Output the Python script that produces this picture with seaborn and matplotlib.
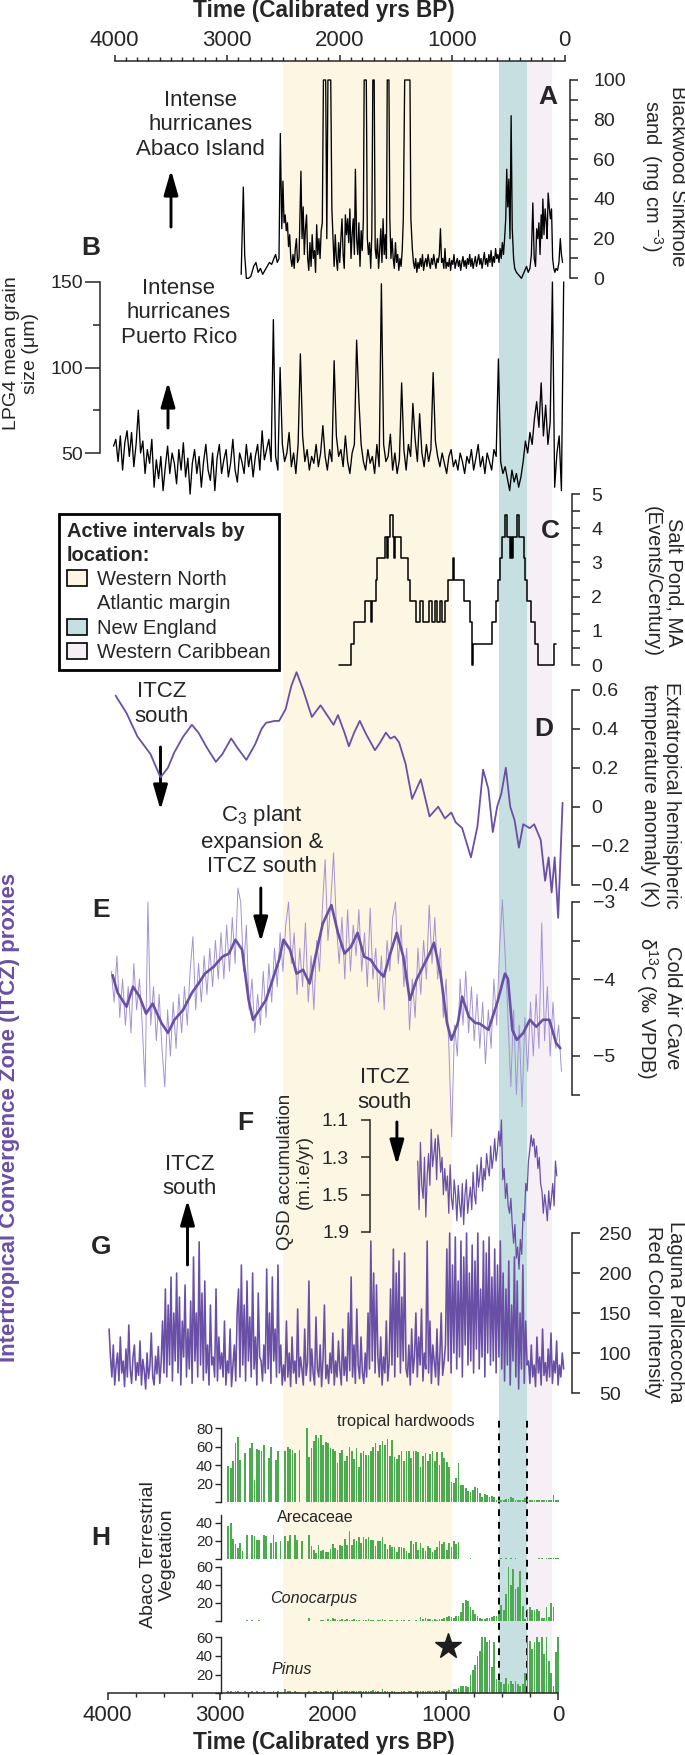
import numpy as np
import pandas as pd
import matplotlib
matplotlib.use("Agg")
import matplotlib.pyplot as plt
import seaborn as sns
from matplotlib.patches import Patch
from matplotlib.ticker import MultipleLocator, FixedLocator

sns.set_style("ticks")
plt.rcParams["font.family"] = ["Liberation Sans", "DejaVu Sans"]
plt.rcParams["mathtext.fontset"] = "custom"
plt.rcParams["mathtext.rm"] = "Liberation Sans"
plt.rcParams["mathtext.it"] = "Liberation Sans:italic"
plt.rcParams["mathtext.bf"] = "Liberation Sans:bold"

# ======================= DATA =======================
time_ticks = [4000, 3000, 2000, 1000, 0]

# active intervals (yrs BP)
wna_interval = (2500, 1000)
ne_interval = (585, 335)
wc_interval = (335, 115)

# A  Blackwood Sinkhole sand (mg cm-3)
a_pairs = [
 (2876,2),(2868,20),(2857,46),(2845,12),(2830,0),(2810,0),(2790,1),(2765,6),(2745,8),(2725,3),
 (2705,5),(2685,2),(2665,4),(2645,6),(2625,8),(2605,7),(2585,10),(2570,12),(2555,8),(2540,10),
 (2528,73),(2515,25),(2505,49),(2495,28),(2485,32),(2475,24),(2465,28),(2455,16),(2445,22),(2435,10),
 (2425,6),(2415,12),(2405,5),(2395,15),(2385,20),(2375,8),(2362,10),(2345,54),(2335,20),(2325,36),
 (2315,12),(2305,25),(2295,32),(2285,10),(2275,4),(2265,18),(2255,6),(2245,22),(2235,10),(2225,14),
 (2215,3),(2205,27),(2195,12),(2185,20),(2175,10),(2165,24),(2155,28),(2145,100),(2125,100),(2115,20),
 (2105,100),(2080,100),(2070,35),(2060,20),(2050,6),(2040,22),(2030,10),(2020,4),(2010,18),(2000,8),
 (1990,20),(1980,30),(1970,12),(1960,5),(1950,32),(1940,22),(1930,30),(1920,18),(1910,35),(1900,10),
 (1890,22),(1880,30),(1870,12),(1861,55),(1850,20),(1840,12),(1830,28),(1820,6),(1810,24),(1800,14),
 (1790,30),(1783,100),(1764,100),(1755,20),(1745,12),(1735,18),(1725,5),(1715,22),(1706,100),(1694,100),
 (1685,15),(1675,10),(1665,20),(1655,5),(1645,14),(1635,25),(1625,8),(1615,30),(1605,12),(1595,22),
 (1585,10),(1578,100),(1563,100),(1555,30),(1545,10),(1535,20),(1525,10),(1515,5),(1505,18),(1495,8),
 (1485,12),(1475,4),(1465,10),(1455,6),(1445,14),(1435,30),(1423,100),(1376,100),(1368,30),(1355,15),
 (1345,8),(1335,5),(1325,10),(1315,3),(1305,8),(1295,5),(1285,10),(1275,6),(1265,12),(1255,4),
 (1245,8),(1235,10),(1225,6),(1215,12),(1205,8),(1195,5),(1185,10),(1175,7),(1165,12),(1155,8),
 (1145,5),(1135,10),(1125,8),(1115,12),(1105,25),(1095,8),(1085,10),(1075,5),(1065,15),(1055,5),
 (1045,8),(1035,6),(1025,10),(1015,4),(1005,9),(995,7),(985,12),(975,5),(965,8),(955,10),
 (945,6),(935,9),(925,4),(915,8),(905,11),(895,6),(885,9),(875,5),(865,10),(855,7),
 (845,12),(835,6),(825,10),(815,5),(805,8),(795,11),(785,6),(775,9),(765,12),(755,7),
 (745,10),(735,5),(725,9),(715,13),(705,7),(695,10),(685,6),(675,12),(665,8),(655,14),
 (645,6),(635,11),(625,8),(615,15),(605,10),(595,12),(585,8),(575,15),(565,10),(555,18),
 (545,12),(535,20),(525,30),(516,55),(507,36),(497,50),(487,20),(477,82),(467,25),(455,10),
 (445,5),(430,3),(415,2),(400,1),(385,0),(370,2),(355,4),(340,6),(325,3),(310,5),
 (297,12),(284,38),(272,10),(260,6),(250,25),(240,20),(230,28),(220,12),(210,32),(203,20),
 (195,40),(185,22),(175,35),(165,28),(157,20),(148,43),(138,36),(128,30),(118,35),(108,10),
 (98,5),(88,3),(78,5),(65,4),(52,8),(40,20),(30,12),(20,8)]
a_time = [p[0] for p in a_pairs]
a_sand = [p[1] for p in a_pairs]

# B  LPG4 mean grain size (um), samples every 20 yr from 4010 to 10 BP
b_first, b_last = 4010, 10
b_grain = [
 54, 58, 45, 60, 40, 56, 63, 48, 62, 42, 55, 75, 50, 57, 38, 52, 44, 58, 30, 46,
 35, 48, 28, 42, 54, 38, 50, 44, 32, 52, 40, 56, 36, 47, 26, 44, 52, 38, 48, 30,
 45, 55, 40, 34, 50, 28, 47, 55, 38, 46, 52, 36, 44, 58, 40, 33, 50, 45, 38, 55,
 42, 50, 36, 48, 55, 40, 63, 46, 52, 58, 45, 128, 48, 40, 100, 55, 45, 50, 62, 42,
 50, 38, 55, 108, 60, 45, 52, 40, 48, 44, 55, 42, 50, 66, 48, 40, 52, 45, 104, 60,
 48, 52, 42, 60, 45, 38, 50, 55, 116, 81, 55, 45, 40, 52, 44, 48, 38, 55, 42, 149,
 55, 45, 48, 61, 40, 50, 38, 46, 91, 52, 40, 55, 48, 79, 58, 45, 73, 50, 42, 55,
 45, 52, 97, 57, 48, 42, 50, 44, 38, 48, 52, 42, 46, 40, 50, 45, 38, 48, 44, 52,
 40, 47, 55, 42, 48, 38, 50, 45, 40, 52, 48, 105, 45, 38, 42, 35, 28, 40, 33, 38,
 30, 36, 45, 57, 50, 62, 55, 70, 80, 65, 91, 60, 78, 55, 68, 150, 30, 50, 60, 28, 150]

# C  Salt Pond events per century (step series, value holds to next time)
c_pairs = [
 (2004,0),(1900,0.625),(1873,1.25),(1775,1.875),(1720,1.25),(1712,1.875),(1676,2.5),(1667,3.125),
 (1601,3.75),(1580,3.125),(1575,3.75),(1551,4.375),(1525,3.75),(1515,3.125),(1510,3.75),(1454,3.125),
 (1396,2.5),(1375,1.875),(1318,1.25),(1287,1.875),(1263,1.25),(1204,1.875),(1183,1.25),(1153,1.875),
 (1138,1.25),(1109,1.875),(1088,1.25),(1065,1.875),(1040,2.5),(995,3.125),(985,2.5),(892,1.875),
 (845,1.25),(824,0),(818,0.625),(645,1.25),(610,1.875),(592,2.5),(575,3.125),(556,3.75),
 (530,4.375),(515,3.75),(490,3.125),(482,3.75),(470,3.125),(462,3.75),(425,4.375),(410,3.75),
 (362,3.125),(350,2.5),(335,1.875),(300,1.25),(265,0.625),(242,0),(92,0.625),(78,0.625)]
c_time = [p[0] for p in c_pairs]
c_rate = [p[1] for p in c_pairs]

# D  extratropical hemispheric temperature anomaly (K)
d_pairs = [
 (3992,0.57),(3895,0.48),(3798,0.36),(3682,0.27),(3593,0.15),(3527,0.20),(3469,0.28),(3391,0.36),
 (3314,0.42),(3256,0.38),(3178,0.30),(3101,0.23),(3043,0.27),(2965,0.35),(2907,0.30),(2830,0.24),
 (2752,0.32),(2694,0.40),(2655,0.43),(2578,0.44),(2539,0.44),(2481,0.50),(2430,0.62),(2384,0.69),
 (2326,0.60),(2248,0.46),(2171,0.52),(2113,0.47),(2055,0.42),(2016,0.47),(1958,0.38),(1919,0.31),
 (1872,0.38),(1822,0.44),(1764,0.37),(1687,0.29),(1640,0.33),(1590,0.38),(1551,0.35),(1512,0.36),
 (1473,0.33),(1415,0.22),(1357,0.04),(1280,0.14),(1202,-0.05),(1125,0.0),(1066,-0.06),(1008,-0.03),
 (970,-0.08),(912,-0.11),(834,-0.26),(776,-0.10),(726,0.19),(679,0.09),(640,-0.13),(601,0.0),
 (563,0.07),(524,0.20),(485,0.0),(446,-0.07),(408,-0.21),(369,-0.09),(311,-0.11),(272,-0.09),
 (214,-0.17),(175,-0.38),(144,-0.26),(117,-0.44),(90,-0.26),(59,-0.57),(20,0.02)]
d_time = [p[0] for p in d_pairs]
d_temp = [p[1] for p in d_pairs]

# E  Cold Air Cave d13C (permil VPDB): smoothed curve and raw record
e_smooth_pairs = [
 (4019,-3.95),(3973,-4.18),(3895,-4.36),(3837,-4.10),(3779,-4.23),(3721,-4.45),(3663,-4.32),(3585,-4.57),
 (3527,-4.70),(3469,-4.53),(3391,-4.40),(3314,-4.18),(3256,-4.06),(3198,-3.93),(3120,-3.84),(3043,-3.71),
 (2985,-3.67),(2927,-3.49),(2868,-3.62),(2810,-4.27),(2771,-4.53),(2713,-4.40),(2655,-4.27),(2597,-4.01),
 (2539,-3.75),(2500,-3.49),(2442,-3.62),(2384,-3.93),(2326,-3.88),(2268,-4.06),(2210,-3.67),(2151,-3.28),
 (2074,-3.04),(2016,-3.40),(1958,-3.67),(1900,-3.58),(1841,-3.40),(1783,-3.71),(1725,-3.75),(1667,-3.88),
 (1609,-3.97),(1551,-3.67),(1493,-3.40),(1435,-3.71),(1377,-4.27),(1318,-4.01),(1260,-3.84),(1202,-3.67),
 (1163,-3.53),(1105,-3.93),(1047,-4.57),(1008,-4.79),(950,-4.57),(912,-4.23),(853,-4.49),(795,-4.57),
 (756,-4.58),(679,-4.66),(601,-4.31),(532,-3.93),(505,-4.00),(466,-4.66),(427,-4.79),(369,-4.70),
 (311,-4.53),(253,-4.62),(195,-4.53),(137,-4.53),(78,-4.83),(40,-4.90)]
e_smooth_time = [p[0] for p in e_smooth_pairs]
e_smooth = [p[1] for p in e_smooth_pairs]

e_raw_first, e_raw_last = 4030, 30
e_raw = [
 -3.9,-4.3,-3.7,-4.5,-4.0,-4.6,-4.1,-4.7,-3.8,-4.4,
 -4.0,-4.6,-5.4,-3.0,-4.6,-4.1,-4.8,-4.2,-4.9,-5.4,
 -4.4,-5.0,-4.3,-4.9,-4.2,-4.7,-4.1,-4.6,-3.9,-3.45,
 -4.4,-3.8,-4.3,-3.7,-4.2,-3.6,-4.1,-3.5,-4.0,-3.4,
 -4.0,-3.3,-3.9,-3.2,-3.8,-2.82,-3.0,-3.9,-3.3,-4.4,
 -4.0,-4.7,-4.2,-4.6,-3.9,-4.5,-3.8,-4.3,-3.6,-4.1,
 -3.4,-3.9,-3.3,-3.0,-3.8,-3.4,-4.2,-3.6,-4.1,-3.27,
 -4.3,-3.7,-4.4,-3.5,-3.9,-3.1,-2.45,-3.5,-3.0,-2.36,
 -3.3,-3.8,-3.2,-4.0,-3.1,-3.9,-3.3,-3.7,-3.1,-3.9,
 -3.4,-4.1,-3.08,-4.0,-3.6,-4.3,-3.7,-4.4,-3.5,-3.9,
 -3.2,-3.0,-3.8,-3.3,-4.1,-3.6,-4.66,-4.0,-4.5,-3.6,
 -4.2,-3.5,-4.0,-3.04,-3.8,-3.2,-4.0,-3.6,-4.5,-4.0,
 -4.9,-6.05,-4.6,-5.0,-4.0,-4.6,-3.9,-4.7,-4.1,-4.8,
 -4.2,-4.9,-4.3,-5.1,-4.4,-4.9,-4.0,-4.6,-3.6,-2.97,
 -3.7,-4.5,-5.4,-4.4,-5.5,-4.6,-5.66,-4.5,-5.2,-4.3,
 -5.0,-4.2,-4.9,-3.27,-4.8,-4.1,-5.0,-4.3,-4.9,-4.6,-5.2]

# F  QSD accumulation (m.i.e/yr), plotted on the figure's own tick scale
f_first, f_last = 1307, 71
f_ticks = [1.1, 1.3, 1.5, 1.7]
f_tick_labels = ["1.1", "1.3", "1.5", "1.9"]
f_qsd = [
 1.32,1.58,1.22,1.45,1.52,1.30,1.62,1.40,1.28,1.45,
 1.15,1.35,1.28,1.20,1.42,1.18,1.25,1.38,1.30,1.50,
 1.36,1.48,1.40,1.60,1.34,1.52,1.58,1.42,1.50,1.64,
 1.45,1.55,1.62,1.44,1.66,1.50,1.42,1.60,1.52,1.46,
 1.58,1.38,1.50,1.55,1.34,1.46,1.40,1.30,1.48,1.36,
 1.42,1.28,1.35,1.40,1.24,1.36,1.30,1.20,1.32,1.26,
 1.16,1.24,1.10,1.42,1.36,1.52,1.44,1.56,1.60,1.52,
 1.66,1.76,1.66,1.84,1.78,1.90,1.74,1.82,1.60,1.64,
 1.44,1.48,1.32,1.26,1.18,1.24,1.20,1.30,1.24,1.36,
 1.30,1.44,1.48,1.60,1.50,1.56,1.64,1.48,1.58,1.52,
 1.44,1.56,1.32,1.40]

# G  Laguna Pallcacocha red color intensity, every 12.5 yr from 4050 to 10 BP
g_first, g_last = 4050, 10
g_red = [
 130, 95, 70, 110, 60, 85, 100, 65, 120, 75, 90, 58, 105, 70, 135, 80, 62, 95, 110, 66,
 88, 72, 115, 60, 92, 78, 55, 100, 68, 84, 125, 70, 60, 96, 74, 108, 62, 88, 140, 75,
 180, 70, 160, 85, 195, 65, 150, 90, 200, 75, 170, 60, 140, 95, 185, 70, 130, 80, 165, 62,
 220, 90, 150, 70, 239, 85, 175, 66,
 190, 75, 110, 60, 160, 85, 95, 70, 180, 65, 120, 80,
 100, 70, 140, 60, 90, 75, 130, 58, 85, 110, 65, 150,
 180, 70, 210, 85, 160, 65, 190, 90, 145, 70, 200, 80, 120, 60, 175, 95,
 90, 65, 110, 75,
 205, 80, 150, 62, 195, 90, 130, 70, 210, 75, 110, 60,
 85, 65, 140, 70, 100, 58, 120, 75, 90, 62, 155, 70, 95, 80, 60, 130, 72, 88, 190, 65,
 105, 75, 60, 145, 80, 70, 110, 58, 92, 160, 68, 85, 62, 100, 75, 125, 60, 90, 70, 115,
 80, 60, 130, 72, 95, 65, 150, 78, 195, 70, 110, 62, 155, 85, 68, 120,
 75, 62, 100, 70,
 150, 80, 240, 90, 200, 75, 185, 95,
 70, 120, 60, 95, 75, 140, 65, 88,
 180, 85, 230, 70, 200, 95, 215, 75, 170, 90, 225, 80,
 70, 110, 60, 130, 75, 95,
 150, 70, 120, 85, 155, 65, 100, 80, 240, 75, 140, 62, 110, 90,
 70, 130, 60, 95, 150, 72, 88, 110,
 230, 90, 250, 75, 210, 100, 245, 80, 190, 95, 240, 70, 220, 110, 250, 85, 200, 90, 235, 75,
 215, 105, 250, 80, 180, 95, 240, 70, 225, 100, 245, 85, 195, 90, 230, 75, 210, 95, 240, 80,
 200, 65, 180, 85, 215, 60, 160, 90, 220, 70, 190, 55, 150, 80, 210, 62, 140, 85,
 90, 62, 110, 70, 85, 58, 120, 75, 95, 60, 130, 72, 88, 65, 105, 70, 125, 62, 90, 75,
 115, 60, 85, 70, 100, 80]

# H  Abaco terrestrial vegetation (%), samples from 2990 to 58 BP
h_first, h_last = 2990, 58
h_hardwoods = [
 39, 37, 44, 64, 70, 46, 0, 53, 0, 58,
 64, 24, 57, 56, 55, 62, 0, 48, 60, 0,
 46, 55, 0, 0, 55, 60, 57, 56, 53, 0,
 56, 0, 0, 80, 49, 58, 66, 72, 69, 72,
 62, 65, 64, 58, 57, 55, 42, 53, 56, 45,
 50, 60, 55, 47, 58, 38, 53, 55, 51, 51,
 55, 60, 64, 55, 62, 66, 62, 68, 50, 67,
 49, 47, 51, 55, 44, 55, 55, 48, 55, 55,
 54, 38, 50, 53, 45, 52, 55, 45, 54, 40,
 54, 48, 43, 38, 22, 21, 26, 42, 19, 19,
 15, 12, 11, 13, 16, 15, 10, 6, 9, 8,
 6, 7, 6, 3, 2, 2, 3, 4, 4, 6,
 5, 3, 2, 2, 3, 5, 4, 3, 3, 2,
 3, 2, 3, 2, 3, 2, 2, 8, 3, 2]
h_arecaceae = [
 36, 48, 22, 17, 12, 18, 9, 0, 26, 0,
 26, 25, 21, 21, 0, 26, 25, 0, 18, 26,
 19, 0, 20, 0, 25, 20, 26, 0, 26, 21,
 0, 20, 0, 0, 26, 14, 10, 7, 15, 9,
 10, 8, 8, 11, 17, 12, 10, 15, 14, 22,
 15, 31, 15, 22, 20, 24, 18, 24, 22, 24,
 21, 21, 14, 20, 20, 24, 17, 11, 15, 13,
 13, 8, 13, 13, 12, 9, 7, 20, 17, 19,
 10, 18, 12, 9, 14, 12, 8, 10, 13, 20,
 17, 19, 10, 18, 13, 20, 17, 19, 0, 0,
 0, 0, 1, 0, 0, 0, 0, 0, 0, 0,
 0, 0, 0, 0, 0, 1, 0, 1, 0, 1,
 0, 1, 0, 0, 0, 0, 0, 0, 0, 0,
 0, 1, 1, 0, 1, 1, 1, 1, 1, 1]
h_conocarpus = [
 0, 0, 0, 0, 0, 0, 0, 0, 1, 0,
 1, 0, 0, 1, 0, 0, 0, 0, 0, 0,
 0, 0, 0, 0, 0, 0, 0, 0, 0, 0,
 0, 0, 0, 0, 3, 0, 0, 0, 0, 1,
 1, 0, 2, 1, 3, 2, 1, 1, 2, 1,
 2, 1, 1, 2, 1, 1, 0, 1, 1, 2,
 1, 1, 0, 1, 1, 2, 1, 0, 1, 1,
 0, 1, 0, 1, 1, 0, 1, 0, 0, 1,
 0, 4, 2, 3, 2, 2, 1, 2, 1, 2,
 2, 3, 4, 6, 4, 3, 5, 6, 10, 20,
 23, 22, 15, 12, 8, 5, 3, 2, 2, 3,
 3, 4, 5, 5, 8, 18, 12, 30, 60, 40,
 58, 35, 38, 55, 17, 2, 13, 15, 12, 12,
 13, 11, 3, 3, 16, 4, 20, 15, 0, 0]
h_pinus = [
 2, 3, 1, 2, 2, 1, 0, 2, 1, 1,
 2, 1, 2, 1, 1, 2, 0, 1, 1, 2,
 1, 2, 1, 0, 5, 3, 2, 1, 2, 1,
 1, 0, 0, 1, 2, 1, 2, 2, 1, 2,
 1, 3, 2, 2, 1, 2, 4, 1, 2, 2,
 3, 2, 2, 3, 2, 2, 3, 2, 3, 2,
 2, 4, 2, 3, 1, 5, 2, 2, 1, 2,
 2, 1, 1, 2, 3, 1, 2, 2, 1, 2,
 2, 3, 2, 2, 3, 2, 3, 2, 3, 4,
 2, 3, 2, 4, 3, 5, 5, 6, 8, 8,
 8, 7, 20, 25, 30, 40, 45, 67, 65, 55,
 57, 28, 55, 15, 13, 12, 10, 16, 10, 13,
 10, 13, 10, 8, 10, 22, 62, 56, 48, 55,
 60, 55, 63, 42, 63, 35, 22, 8, 44, 62]
star_time, star_value = 1035, 50.7

# ======================= STYLE =======================
YEL, BLU, PNK = "#fdf6e2", "#c6dfe0", "#f6eff6"
PURPLE = "#6a4fa6"
LPURPLE = "#a392d2"
GREEN = "#4caa50"

W, H = 685, 1755
XL, XR = 114.7, 564.8

fig = plt.figure(figsize=(W / 100, H / 100), dpi=100)
fig.patch.set_facecolor("white")


def frect(x0, y0, x1, y1):
    return [x0 / W, 1 - y1 / H, (x1 - x0) / W, (y1 - y0) / H]


def fpt(x, y):
    return (x / W, 1 - y / H)


def panel(ytop, ybot, xl=XL, xr=XR):
    ax = fig.add_axes(frect(xl, ytop, xr, ybot))
    ax.patch.set_alpha(0)
    for s in ax.spines.values():
        s.set_visible(False)
    return ax


def finish_x(ax):
    ax.set_xlim(4000, 0)
    ax.set_xticks([])
    ax.set_xlabel("")
    ax.set_ylabel("")


def right_spine(ax, lo, hi, outward=5.5):
    sp = ax.spines["right"]
    sp.set_visible(True)
    sp.set_position(("outward", outward))
    sp.set_bounds(lo, hi)
    sp.set_linewidth(1.1)
    ax.yaxis.tick_right()


# ---------- background: shading + top time axis ----------
bg = panel(61, 1693.3)
bg.set_ylim(0, 1)
bg.axvspan(*wna_interval, color=YEL, lw=0)
bg.axvspan(*ne_interval, color=BLU, lw=0)
bg.axvspan(*wc_interval, color=PNK, lw=0)
bg.set_xlim(4000, 0)
bg.spines["top"].set_visible(True)
bg.spines["top"].set_linewidth(1.1)
bg.xaxis.tick_top()
bg.set_xticks(time_ticks)
bg.set_xticklabels([str(t) for t in time_ticks])
bg.xaxis.set_minor_locator(MultipleLocator(100))
bg.tick_params(axis="x", which="major", length=4.5, width=1.1, labelsize=16, pad=3)
bg.tick_params(axis="x", which="minor", length=3.0, width=1.0)
bg.set_yticks([])
yfrac = lambda y: (1693.3 - y) / (1693.3 - 61)
for t in ne_interval:
    bg.axvline(t, ymin=0, ymax=yfrac(1415), color="black", lw=1.4, ls=(0, (3.5, 3.0)))

# ---------- A ----------
axA = panel(80, 278.3)
sns.lineplot(x=a_time, y=a_sand, ax=axA, color="black", lw=0.95, sort=False,
             estimator=None, clip_on=False)
finish_x(axA)
axA.set_ylim(0, 100)
right_spine(axA, 0, 100, outward=4.0)
axA.set_yticks(range(0, 101, 20))
axA.yaxis.set_minor_locator(MultipleLocator(10))
axA.tick_params(axis="y", which="both", length=5.5, width=1.1, labelsize=14, pad=11)

# ---------- B ----------
axB = panel(282, 453)
b_time = np.linspace(b_first, b_last, len(b_grain))
sns.lineplot(x=b_time, y=b_grain, ax=axB, color="black", lw=0.95, sort=False,
             estimator=None, clip_on=False)
finish_x(axB)
axB.set_ylim(50, 150)
sp = axB.spines["left"]
sp.set_visible(True)
sp.set_position(("outward", 10.4))
sp.set_bounds(50, 150)
sp.set_linewidth(1.1)
axB.set_yticks([50, 100, 150])
axB.yaxis.set_minor_locator(FixedLocator([75, 125]))
axB.tick_params(axis="y", which="major", length=10.8, width=1.1, labelsize=14, pad=1.7)
axB.tick_params(axis="y", which="minor", length=4.7, width=1.1)

# ---------- C ----------
axC = panel(494, 665)
sns.lineplot(x=c_time, y=c_rate, ax=axC, color="black", lw=1.1, sort=False,
             estimator=None, drawstyle="steps-post", clip_on=False)
finish_x(axC)
axC.set_ylim(0, 5)
right_spine(axC, 0, 5)
axC.set_yticks(range(0, 6))
axC.yaxis.set_minor_locator(MultipleLocator(0.5))
axC.tick_params(axis="y", which="both", length=5.5, width=1.1, labelsize=14, pad=8)

# ---------- D ----------
axD = panel(689.7, 884.7)
sns.lineplot(x=d_time, y=d_temp, ax=axD, color=PURPLE, lw=1.3, sort=False,
             estimator=None, clip_on=False)
finish_x(axD)
axD.set_ylim(-0.4, 0.6)
right_spine(axD, -0.4, 0.6)
d_ticks = [-0.4, -0.2, 0, 0.2, 0.4, 0.6]
axD.set_yticks(d_ticks)
axD.set_yticklabels(["\u22120.4", "\u22120.2", "0", "0.2", "0.4", "0.6"])
axD.tick_params(axis="y", length=5.5, width=1.1, labelsize=14, pad=8)

# ---------- E ----------
axE = panel(902, 1094.5)
e_raw_time = np.linspace(e_raw_first, e_raw_last, len(e_raw))
sns.lineplot(x=e_raw_time, y=e_raw, ax=axE, color=LPURPLE, lw=0.7, sort=False,
             estimator=None, clip_on=False)
sns.lineplot(x=e_smooth_time, y=e_smooth, ax=axE, color=PURPLE, lw=1.9, sort=False,
             estimator=None, clip_on=False)
finish_x(axE)
axE.set_ylim(-5.5, -3)
right_spine(axE, -5.5, -3)
axE.set_yticks([-5, -4, -3])
axE.set_yticklabels(["\u22125", "\u22124", "\u22123"])
axE.yaxis.set_minor_locator(FixedLocator([-5.5, -4.5, -3.5]))
axE.tick_params(axis="y", which="both", length=5.5, width=1.1, labelsize=14, pad=9.5)

# ---------- F ----------
axF = panel(1120, 1232)
f_time = np.linspace(f_first, f_last, len(f_qsd))
sns.lineplot(x=f_time, y=f_qsd, ax=axF, color=PURPLE, lw=0.9, sort=False,
             estimator=None, clip_on=False)
finish_x(axF)
axF.set_ylim(1.7, 1.1)
sp = axF.spines["left"]
sp.set_visible(True)
sp.set_position(("axes", (369.8 - XL) / (XR - XL)))
sp.set_bounds(1.1, 1.7)
sp.set_linewidth(1.1)
axF.set_yticks(f_ticks)
axF.set_yticklabels(f_tick_labels)
axF.tick_params(axis="y", length=6.3, width=1.1, labelsize=14, pad=8.6)

# ---------- G ----------
axG = panel(1233, 1393)
g_time = np.linspace(g_first, g_last, len(g_red))
sns.lineplot(x=g_time, y=g_red, ax=axG, color=PURPLE, lw=1.15, sort=False,
             estimator=None, clip_on=False)
finish_x(axG)
axG.set_ylim(50, 250)
right_spine(axG, 50, 250)
axG.set_yticks(range(50, 251, 50))
axG.tick_params(axis="y", length=5.5, width=1.1, labelsize=14, pad=13.5)

# ---------- H ----------
h_time = np.linspace(h_first, h_last, len(h_hardwoods))
h_specs = [
    (h_hardwoods, 1428, 1502.3, 80, 80, [0, 20, 40, 60, 80]),
    (h_arecaceae, 1522.7, 1559, 40, 48, [0, 20, 40]),
    (h_conocarpus, 1566.7, 1621, 60, 60, [0, 20, 40, 60]),
    (h_pinus, 1637.3, 1693.3, 60, 60, [0, 20, 40, 60]),
]
h_axes = []
for vals, yt, yb, ytopv, spinetop, ticks in h_specs:
    ax = panel(yt, yb)
    sns.barplot(x=h_time, y=vals, ax=ax, native_scale=True, orient="x", color=GREEN,
                saturation=1, width=0.72, errorbar=None, linewidth=0)
    finish_x(ax)
    ax.set_ylim(0, ytopv)
    sp = ax.spines["left"]
    sp.set_visible(True)
    sp.set_position(("axes", (220.7 - XL) / (XR - XL)))
    sp.set_bounds(0, spinetop)
    sp.set_linewidth(1.0)
    ax.set_yticks(ticks)
    ax.set_yticklabels([""] + [str(t) for t in ticks[1:]])
    ax.tick_params(axis="y", length=4, width=1.0, labelsize=11, pad=1.5)
    h_axes.append(ax)
axP = h_axes[-1]
axP.plot([star_time], [star_value], marker="*", ms=19, color="#1e1e1e", ls="none", clip_on=False)

# ---------- bottom time axis ----------
axT = panel(1673.3, 1693.3, 107.5, 558.3)
axT.set_xlim(4000, 0)
axT.set_ylim(0, 1)
axT.spines["bottom"].set_visible(True)
axT.spines["bottom"].set_linewidth(1.1)
axT.set_xticks(time_ticks)
axT.set_xticklabels([str(t) for t in time_ticks])
axT.xaxis.set_minor_locator(MultipleLocator(250))
axT.set_yticks([])
axT.tick_params(axis="x", which="major", length=4.8, width=1.1, labelsize=16, pad=3.5)
axT.tick_params(axis="x", which="minor", length=3.1, width=1.0)

# ======================= TEXT =======================
def ftxt(x, y, s, **kw):
    kw.setdefault("ha", "center")
    kw.setdefault("va", "center")
    fig.text(x / W, 1 - y / H, s, **kw)

ftxt(324, 11, "Time (Calibrated yrs BP)", fontsize=16.3, weight="bold")
ftxt(324, 1742, "Time (Calibrated yrs BP)", fontsize=16.3, weight="bold")

for letter, x, y in [("A", 548, 97), ("B", 90.5, 248), ("C", 550.5, 531), ("D", 544, 729),
                     ("E", 101, 910), ("F", 245, 1123), ("G", 101, 1247), ("H", 101, 1538)]:
    ftxt(x, y, letter, fontsize=19, weight="bold")

rl = dict(rotation=270, fontsize=14.5, multialignment="center")
ftxt(663, 176, "Blackwood Sinkhole\nsand  (mg cm $^{-3}$)", **rl)
ftxt(663, 582, "Salt Pond, MA\n(Events/Century)", **rl)
ftxt(661, 795, "Extratropical hemispheric\ntemperature anomaly (K)", **rl)
ftxt(658, 1008, "Cold Air Cave\n\u03b4$^{13}$C (\u2030 VPDB)", **rl)
ftxt(664, 1312, "Laguna Pallcacocha\nRed Color Intensity", **rl)

ll = dict(rotation=90, fontsize=14, multialignment="center")
ftxt(21, 353, "LPG4 mean grain\nsize (\u03bcm)", **ll)
ftxt(295, 1172, "QSD accumulation\n(m.i.e/yr)", rotation=90, fontsize=13.5, multialignment="center")
ftxt(158, 1555, "Abaco Terrestrial\nVegetation", **ll)
ftxt(10, 1117, "Intertropical Convergence Zone (ITCZ) proxies", rotation=90,
     fontsize=16, weight="bold", color=PURPLE)

an = dict(fontsize=16, linespacing=1.2, multialignment="center")
ftxt(200.6, 125, "Intense\nhurricanes\nAbaco Island", **an)
ftxt(178.8, 313, "Intense\nhurricanes\nPuerto Rico", **an)
ftxt(161.4, 704, "ITCZ\nsouth", **an)
ftxt(261.7, 840, "C$_3$ plant\nexpansion &\nITCZ south", **an)
ftxt(384.7, 1090, "ITCZ\nsouth", **an)
ftxt(189.7, 1176.5, "ITCZ\nsouth", **an)

ftxt(405.7, 1421.7, "tropical hardwoods", fontsize=11.8)
ftxt(315, 1518, "Arecaceae", fontsize=11.6)
ftxt(313.3, 1599, "Conocarpus", fontsize=11.6, style="italic")
ftxt(291.7, 1669, "Pinus", fontsize=11.6, style="italic")

arrow_kw = dict(arrowstyle="-|>,head_length=15,head_width=4.3", color="black", lw=2.1,
                shrinkA=0, shrinkB=0, mutation_scale=1)
for x, y0, y1 in [(171, 227, 170), (168, 428, 382), (160.5, 747, 810), (260.8, 888, 942),
                  (396.9, 1122, 1165), (187.5, 1265, 1200)]:
    bg.annotate("", xy=fpt(x, y1), xytext=fpt(x, y0), xycoords="figure fraction",
                textcoords="figure fraction", arrowprops=arrow_kw, annotation_clip=False)

# legend
handles = [Patch(facecolor=YEL, edgecolor="black", lw=1.2),
           Patch(facecolor="none", edgecolor="none"),
           Patch(facecolor=BLU, edgecolor="black", lw=1.2),
           Patch(facecolor=PNK, edgecolor="black", lw=1.2)]
labels = ["Western North", "Atlantic margin", "New England", "Western Caribbean"]
leg = fig.legend(handles, labels, loc="upper left", bbox_to_anchor=fpt(59, 514),
                 bbox_transform=fig.transFigure, title="Active intervals by\nlocation:",
                 title_fontproperties={"weight": "bold", "size": 14.5}, prop={"size": 14.5},
                 alignment="left", frameon=True, fancybox=False, edgecolor="black",
                 framealpha=1, borderpad=0.4, handlelength=1.0, handleheight=0.85,
                 handletextpad=0.5, labelspacing=0.27, borderaxespad=0)
leg.get_title().set_linespacing(1.3)
leg.get_frame().set_linewidth(2.0)

fig.savefig("out.png", dpi=100)
